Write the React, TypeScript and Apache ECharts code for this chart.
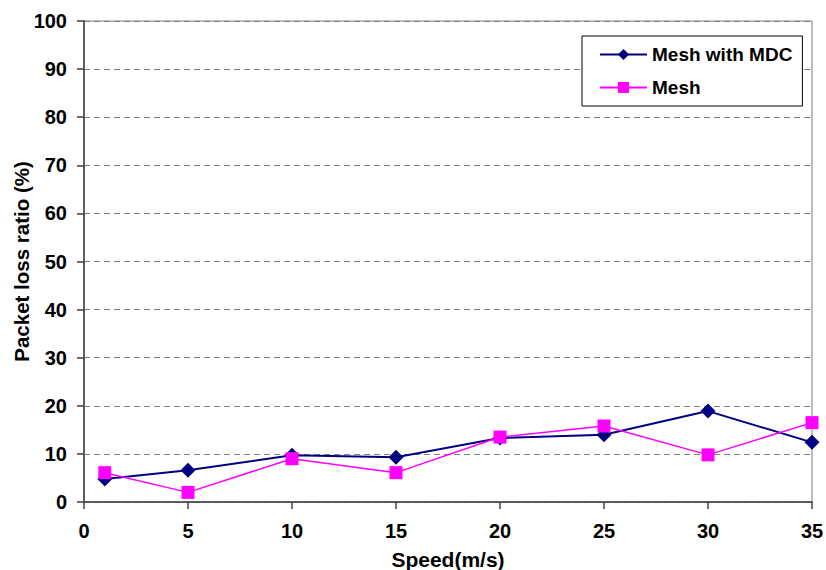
import React, { useEffect, useRef } from "react";
import * as echarts from "echarts";

const speeds = [1, 5, 10, 15, 20, 25, 30, 35];
const meshWithMdc = [4.8, 6.6, 9.7, 9.3, 13.3, 14.0, 18.9, 12.4];
const mesh = [6.1, 2.0, 9.0, 6.1, 13.5, 15.8, 9.8, 16.5];
const seriesNames = ["Mesh with MDC", "Mesh"];

const FONT = "'Liberation Sans', Arial, sans-serif";

export default function App() {
  const ref = useRef<HTMLDivElement>(null);
  useEffect(() => {
    if (!ref.current) return;
    const chart = echarts.init(ref.current, null, { renderer: "svg" });
    chart.setOption({
      animation: false,
      backgroundColor: "#ffffff",
      textStyle: { fontFamily: FONT },
      grid: {
        left: 84,
        top: 21,
        width: 728,
        height: 481,
        containLabel: false,
        outerBoundsMode: "none",
        show: true,
        borderColor: "#808080",
        borderWidth: 1,
        backgroundColor: "transparent",
      },
      legend: {
        orient: "vertical",
        left: 582,
        top: 36,
        padding: [9, 10, 9, 17],
        itemGap: 14,
        itemWidth: 47,
        itemHeight: 14,
        backgroundColor: "#ffffff",
        borderColor: "#000000",
        borderWidth: 1,
        textStyle: { fontFamily: FONT, fontWeight: "bold", fontSize: 19, color: "#000" },
        data: seriesNames,
      },
      xAxis: {
        type: "value",
        min: 0,
        max: 35,
        interval: 5,
        name: "Speed(m/s)",
        nameLocation: "middle",
        nameGap: 47,
        nameMoveOverlap: false,
        nameTextStyle: { fontFamily: FONT, fontWeight: "bold", fontSize: 21, color: "#000" },
        axisLine: { show: true, onZero: false, lineStyle: { color: "#404040", width: 1.5 } },
        axisTick: { show: true, length: 7, lineStyle: { color: "#404040", width: 1.5 } },
        axisLabel: { margin: 19, fontFamily: FONT, fontWeight: "bold", fontSize: 20, color: "#000" },
        splitLine: { show: false },
      },
      yAxis: {
        type: "value",
        min: 0,
        max: 100,
        interval: 10,
        name: "Packet loss ratio (%)",
        nameLocation: "middle",
        nameGap: 52,
        nameMoveOverlap: false,
        nameTextStyle: { fontFamily: FONT, fontWeight: "bold", fontSize: 20.5, color: "#000" },
        axisLine: { show: true, lineStyle: { color: "#404040", width: 1.5 } },
        axisTick: { show: true, length: 7, lineStyle: { color: "#404040", width: 1.5 } },
        axisLabel: { margin: 17, fontFamily: FONT, fontWeight: "bold", fontSize: 20, color: "#000" },
        splitLine: { show: true, lineStyle: { color: "#808080", type: [6, 4], width: 1 } },
      },
      series: [
        {
          name: seriesNames[0],
          type: "line",
          data: speeds.map((s, i) => [s, meshWithMdc[i]]),
          symbol: "diamond",
          symbolSize: 15,
          lineStyle: { color: "#000080", width: 2 },
          itemStyle: { color: "#000080" },
          z: 2,
        },
        {
          name: seriesNames[1],
          type: "line",
          data: speeds.map((s, i) => [s, mesh[i]]),
          symbol: "rect",
          symbolSize: 13,
          lineStyle: { color: "#FF00FF", width: 1.5 },
          itemStyle: { color: "#FF00FF" },
          z: 3,
        },
      ],
    });
    return () => chart.dispose();
  }, []);
  return <div ref={ref} style={{ width: 826, height: 570, position: "absolute", left: 0, top: 0 }} />;
}
